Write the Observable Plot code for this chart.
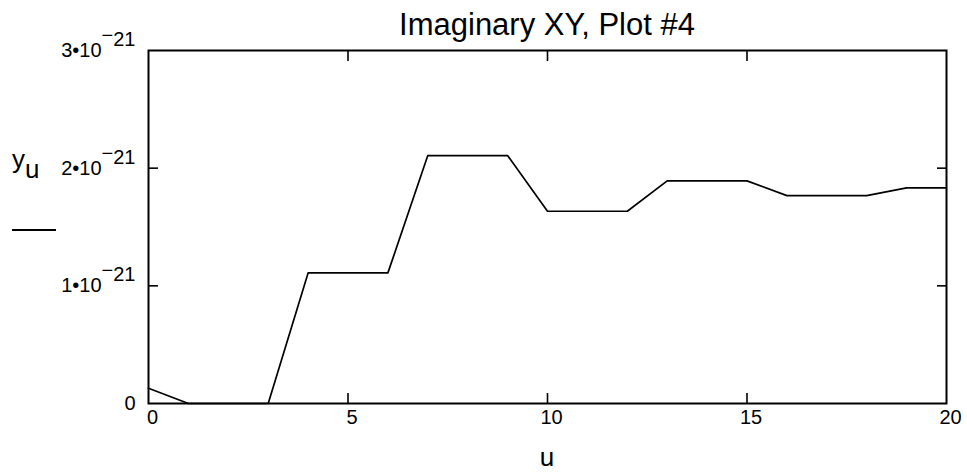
<!DOCTYPE html>
<html>
<head>
<meta charset="utf-8">
<script src="https://cdn.jsdelivr.net/npm/d3@7"></script>
<script src="https://cdn.jsdelivr.net/npm/@observablehq/plot@0.6"></script>
<style>
  html, body { margin: 0; padding: 0; background: #fff; }
  svg { display: block; font-family: "Liberation Sans", Arial, sans-serif; }
</style>
</head>
<body>
<div id="chart"></div>
<script>
const title = "Imaginary XY, Plot #4";
const xLabel = "u";
const u = [0, 1, 2, 3, 4, 5, 6, 7, 8, 9, 10, 11, 12, 13, 14, 15, 16, 17, 18, 19, 20];
const yVals = [0.13e-21, 0, 0, 0, 1.11e-21, 1.11e-21, 1.11e-21, 2.107e-21, 2.107e-21, 2.107e-21,
  1.634e-21, 1.634e-21, 1.634e-21, 1.892e-21, 1.892e-21, 1.892e-21, 1.767e-21, 1.767e-21, 1.767e-21,
  1.833e-21, 1.833e-21];
const xTicks = [0, 5, 10, 15, 20];
const xInnerTicks = [5, 10, 15];
const yTicks = [0, 1e-21, 2e-21, 3e-21];
const yInnerTicks = [1e-21, 2e-21];

const data = u.map((d, i) => ({u: d, y: yVals[i]}));

const plot = Plot.plot({
  width: 967,
  height: 475,
  marginLeft: 148,
  marginRight: 21,
  marginTop: 50,
  marginBottom: 72,
  style: {fontFamily: "'Liberation Sans', Arial, sans-serif", background: "white", color: "black"},
  x: {domain: [0, 20]},
  y: {domain: [0, 3e-21]},
  marks: [
    Plot.line(data, {x: "u", y: "y", stroke: "black", strokeWidth: 1.7}),
    Plot.frame({stroke: "black", strokeWidth: 2}),
    // tick labels
    Plot.axisX({anchor: "bottom", ticks: xTicks, tickSize: 0, tickPadding: 6, dx: 4, fontSize: 20, label: null, tickFormat: d => String(d)}),
    Plot.axisY({anchor: "left", ticks: yTicks, tickSize: 0, tickPadding: 13, fontSize: 20, label: null,
      tickFormat: d => d === 0 ? "0" : `${Math.round(d * 1e21)}•10`}),
    // inward ticks
    Plot.axisX({anchor: "bottom", ticks: xInnerTicks, tickSize: 10, dy: -10, strokeWidth: 1.6, tickFormat: () => "", label: null}),
    Plot.axisX({anchor: "top", ticks: xInnerTicks, tickSize: 10, dy: 10, strokeWidth: 1.6, tickFormat: () => "", label: null}),
    Plot.axisY({anchor: "left", ticks: yInnerTicks, tickSize: 10, dx: 10, strokeWidth: 1.6, tickFormat: () => "", label: null}),
    Plot.axisY({anchor: "right", ticks: yInnerTicks, tickSize: 10, dx: -10, strokeWidth: 1.6, tickFormat: () => "", label: null})
  ]
});

document.getElementById("chart").appendChild(plot);

// tick label font size
plot.querySelectorAll('g[aria-label$="tick label"]').forEach(g => {
  g.style.fontSize = "20px";
  g.setAttribute("font-size", 20);
});

// superscript exponents on y tick labels
const ns = "http://www.w3.org/2000/svg";
plot.querySelectorAll('g[aria-label="y-axis tick label"] text').forEach(t => {
  if (t.textContent.trim() === "0" || t.textContent.trim() === "") return;
  const m = document.createElementNS(ns, "tspan");
  m.setAttribute("dy", "-0.75em");
  m.textContent = "\u2212";
  const e = document.createElementNS(ns, "tspan");
  e.setAttribute("dy", "0.2em");
  e.textContent = "21";
  t.appendChild(m);
  t.appendChild(e);
});

const svg = d3.select(plot);
// title
svg.append("text")
  .attr("x", 547).attr("y", 35)
  .attr("text-anchor", "middle")
  .attr("font-size", 31)
  .attr("fill", "black")
  .text(title);
// x label
svg.append("text")
  .attr("x", 547).attr("y", 466)
  .attr("text-anchor", "middle")
  .attr("font-size", 26)
  .attr("fill", "black")
  .text(xLabel);
// y label: y with subscript u, underlined by a bar
const yl = svg.append("text")
  .attr("x", 12).attr("y", 168)
  .attr("text-anchor", "start")
  .attr("font-size", 26)
  .attr("fill", "black");
yl.append("tspan").text("y");
yl.append("tspan").attr("dy", 10).text("u");
svg.append("line")
  .attr("x1", 12).attr("x2", 56)
  .attr("y1", 230).attr("y2", 230)
  .attr("stroke", "black").attr("stroke-width", 2);
</script>
</body>
</html>
